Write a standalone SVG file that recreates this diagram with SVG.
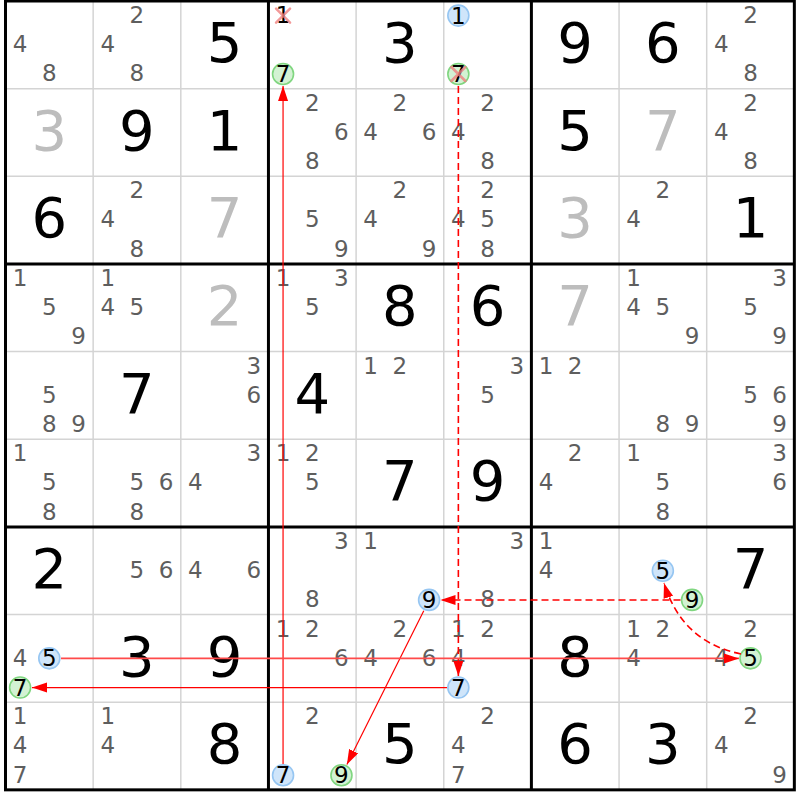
<svg xmlns="http://www.w3.org/2000/svg" width="800" height="800" viewBox="0 0 800 800">
<style>
.cd{font-family:"DejaVu Sans",sans-serif;font-size:23px;fill:#5e5e5e;text-anchor:middle}
.hk{font-family:"DejaVu Sans",sans-serif;font-size:23px;fill:#000;text-anchor:middle}
.gv{font-family:"DejaVu Sans",sans-serif;font-size:56px;fill:#000;text-anchor:middle}
.sv{font-family:"DejaVu Sans",sans-serif;font-size:56px;fill:#bdbdbd;text-anchor:middle}
.bl{fill:#cfe5fa;stroke:#96c6f2;stroke-width:1.6}
.gr{fill:#d3f2d3;stroke:#80d680;stroke-width:1.6}
.xm{stroke:#f08080;stroke-width:2.5;stroke-linecap:round;opacity:0.8}
.thin{stroke:#d4d4d4;stroke-width:1.5}
.thick{stroke:#000;stroke-width:3}
.ln{stroke:#ff0000;stroke-width:1.2;fill:none}
.lp{stroke:#ff4a4a;stroke-width:1.6;fill:none}
.dl{stroke:#ff0000;stroke-width:1.6;stroke-dasharray:7 4;fill:none}
</style>
<defs>
<marker id="ah" markerUnits="userSpaceOnUse" markerWidth="16" markerHeight="11" refX="15" refY="5" orient="auto"><path d="M0,0L15,5L0,10z" fill="#ff0000"/></marker>
</defs>
<rect width="800" height="800" fill="#fff"/>
<g id="grid">
<g class="thin">
<line x1="93.15" y1="1" x2="93.15" y2="789.85"/><line x1="180.8" y1="1" x2="180.8" y2="789.85"/>
<line x1="356.1" y1="1" x2="356.1" y2="789.85"/><line x1="443.75" y1="1" x2="443.75" y2="789.85"/>
<line x1="619.05" y1="1" x2="619.05" y2="789.85"/><line x1="706.7" y1="1" x2="706.7" y2="789.85"/>
<line x1="5.5" y1="88.65" x2="794.35" y2="88.65"/><line x1="5.5" y1="176.3" x2="794.35" y2="176.3"/>
<line x1="5.5" y1="351.6" x2="794.35" y2="351.6"/><line x1="5.5" y1="439.25" x2="794.35" y2="439.25"/>
<line x1="5.5" y1="614.55" x2="794.35" y2="614.55"/><line x1="5.5" y1="702.2" x2="794.35" y2="702.2"/>
</g>
<g class="thick">
<line x1="268.45" y1="1" x2="268.45" y2="789.85"/><line x1="531.4" y1="1" x2="531.4" y2="789.85"/>
<line x1="5.5" y1="263.95" x2="794.35" y2="263.95"/><line x1="5.5" y1="526.9" x2="794.35" y2="526.9"/>
<rect x="5.5" y="1" width="788.85" height="788.85" fill="none"/>
</g>
</g>
<g id="cells">
<!-- row 0 -->
<g id="r0c0" transform="translate(5.5,1)"><text class="cd" x="14.6" y="51.2">4</text><text class="cd" x="43.8" y="80.4">8</text></g>
<g id="r0c1" transform="translate(93.15,1)"><text class="cd" x="43.8" y="22">2</text><text class="cd" x="14.6" y="51.2">4</text><text class="cd" x="43.8" y="80.4">8</text></g>
<g id="r0c2" transform="translate(180.8,1)"><text class="gv" x="43.8" y="61">5</text></g>
<g id="r0c3" transform="translate(268.45,1)"><text class="hk" x="14.6" y="22">1</text><path class="xm" d="M7.6,7.6L21.6,21.6M21.6,7.6L7.6,21.6"/><circle class="gr" cx="14.6" cy="73" r="10.5"/><text class="hk" x="14.6" y="81">7</text></g>
<g id="r0c4" transform="translate(356.1,1)"><text class="gv" x="43.8" y="61">3</text></g>
<g id="r0c5" transform="translate(443.75,1)"><circle class="bl" cx="14.6" cy="14.6" r="10.5"/><text class="hk" x="14.6" y="22.6">1</text><circle class="gr" cx="14.6" cy="73" r="10.5"/><text class="hk" x="14.6" y="81">7</text><path class="xm" d="M7.6,66L21.6,80M21.6,66L7.6,80"/></g>
<g id="r0c6" transform="translate(531.4,1)"><text class="gv" x="43.8" y="61">9</text></g>
<g id="r0c7" transform="translate(619.05,1)"><text class="gv" x="43.8" y="61">6</text></g>
<g id="r0c8" transform="translate(706.7,1)"><text class="cd" x="43.8" y="22">2</text><text class="cd" x="14.6" y="51.2">4</text><text class="cd" x="43.8" y="80.4">8</text></g>
<!-- row 1 -->
<g id="r1c0" transform="translate(5.5,88.65)"><text class="sv" x="43.8" y="61">3</text></g>
<g id="r1c1" transform="translate(93.15,88.65)"><text class="gv" x="43.8" y="61">9</text></g>
<g id="r1c2" transform="translate(180.8,88.65)"><text class="gv" x="43.8" y="61">1</text></g>
<g id="r1c3" transform="translate(268.45,88.65)"><text class="cd" x="43.8" y="22">2</text><text class="cd" x="73" y="51.2">6</text><text class="cd" x="43.8" y="80.4">8</text></g>
<g id="r1c4" transform="translate(356.1,88.65)"><text class="cd" x="43.8" y="22">2</text><text class="cd" x="14.6" y="51.2">4</text><text class="cd" x="73" y="51.2">6</text></g>
<g id="r1c5" transform="translate(443.75,88.65)"><text class="cd" x="43.8" y="22">2</text><text class="cd" x="14.6" y="51.2">4</text><text class="cd" x="43.8" y="80.4">8</text></g>
<g id="r1c6" transform="translate(531.4,88.65)"><text class="gv" x="43.8" y="61">5</text></g>
<g id="r1c7" transform="translate(619.05,88.65)"><text class="sv" x="43.8" y="61">7</text></g>
<g id="r1c8" transform="translate(706.7,88.65)"><text class="cd" x="43.8" y="22">2</text><text class="cd" x="14.6" y="51.2">4</text><text class="cd" x="43.8" y="80.4">8</text></g>
<!-- row 2 -->
<g id="r2c0" transform="translate(5.5,176.3)"><text class="gv" x="43.8" y="61">6</text></g>
<g id="r2c1" transform="translate(93.15,176.3)"><text class="cd" x="43.8" y="22">2</text><text class="cd" x="14.6" y="51.2">4</text><text class="cd" x="43.8" y="80.4">8</text></g>
<g id="r2c2" transform="translate(180.8,176.3)"><text class="sv" x="43.8" y="61">7</text></g>
<g id="r2c3" transform="translate(268.45,176.3)"><text class="cd" x="43.8" y="51.2">5</text><text class="cd" x="73" y="80.4">9</text></g>
<g id="r2c4" transform="translate(356.1,176.3)"><text class="cd" x="43.8" y="22">2</text><text class="cd" x="14.6" y="51.2">4</text><text class="cd" x="73" y="80.4">9</text></g>
<g id="r2c5" transform="translate(443.75,176.3)"><text class="cd" x="43.8" y="22">2</text><text class="cd" x="14.6" y="51.2">4</text><text class="cd" x="43.8" y="51.2">5</text><text class="cd" x="43.8" y="80.4">8</text></g>
<g id="r2c6" transform="translate(531.4,176.3)"><text class="sv" x="43.8" y="61">3</text></g>
<g id="r2c7" transform="translate(619.05,176.3)"><text class="cd" x="43.8" y="22">2</text><text class="cd" x="14.6" y="51.2">4</text></g>
<g id="r2c8" transform="translate(706.7,176.3)"><text class="gv" x="43.8" y="61">1</text></g>
<!-- row 3 -->
<g id="r3c0" transform="translate(5.5,263.95)"><text class="cd" x="14.6" y="22">1</text><text class="cd" x="43.8" y="51.2">5</text><text class="cd" x="73" y="80.4">9</text></g>
<g id="r3c1" transform="translate(93.15,263.95)"><text class="cd" x="14.6" y="22">1</text><text class="cd" x="14.6" y="51.2">4</text><text class="cd" x="43.8" y="51.2">5</text></g>
<g id="r3c2" transform="translate(180.8,263.95)"><text class="sv" x="43.8" y="61">2</text></g>
<g id="r3c3" transform="translate(268.45,263.95)"><text class="cd" x="14.6" y="22">1</text><text class="cd" x="73" y="22">3</text><text class="cd" x="43.8" y="51.2">5</text></g>
<g id="r3c4" transform="translate(356.1,263.95)"><text class="gv" x="43.8" y="61">8</text></g>
<g id="r3c5" transform="translate(443.75,263.95)"><text class="gv" x="43.8" y="61">6</text></g>
<g id="r3c6" transform="translate(531.4,263.95)"><text class="sv" x="43.8" y="61">7</text></g>
<g id="r3c7" transform="translate(619.05,263.95)"><text class="cd" x="14.6" y="22">1</text><text class="cd" x="14.6" y="51.2">4</text><text class="cd" x="43.8" y="51.2">5</text><text class="cd" x="73" y="80.4">9</text></g>
<g id="r3c8" transform="translate(706.7,263.95)"><text class="cd" x="73" y="22">3</text><text class="cd" x="43.8" y="51.2">5</text><text class="cd" x="73" y="80.4">9</text></g>
<!-- row 4 -->
<g id="r4c0" transform="translate(5.5,351.6)"><text class="cd" x="43.8" y="51.2">5</text><text class="cd" x="43.8" y="80.4">8</text><text class="cd" x="73" y="80.4">9</text></g>
<g id="r4c1" transform="translate(93.15,351.6)"><text class="gv" x="43.8" y="61">7</text></g>
<g id="r4c2" transform="translate(180.8,351.6)"><text class="cd" x="73" y="22">3</text><text class="cd" x="73" y="51.2">6</text></g>
<g id="r4c3" transform="translate(268.45,351.6)"><text class="gv" x="43.8" y="61">4</text></g>
<g id="r4c4" transform="translate(356.1,351.6)"><text class="cd" x="14.6" y="22">1</text><text class="cd" x="43.8" y="22">2</text></g>
<g id="r4c5" transform="translate(443.75,351.6)"><text class="cd" x="73" y="22">3</text><text class="cd" x="43.8" y="51.2">5</text></g>
<g id="r4c6" transform="translate(531.4,351.6)"><text class="cd" x="14.6" y="22">1</text><text class="cd" x="43.8" y="22">2</text></g>
<g id="r4c7" transform="translate(619.05,351.6)"><text class="cd" x="43.8" y="80.4">8</text><text class="cd" x="73" y="80.4">9</text></g>
<g id="r4c8" transform="translate(706.7,351.6)"><text class="cd" x="43.8" y="51.2">5</text><text class="cd" x="73" y="51.2">6</text><text class="cd" x="73" y="80.4">9</text></g>
<!-- row 5 -->
<g id="r5c0" transform="translate(5.5,439.25)"><text class="cd" x="14.6" y="22">1</text><text class="cd" x="43.8" y="51.2">5</text><text class="cd" x="43.8" y="80.4">8</text></g>
<g id="r5c1" transform="translate(93.15,439.25)"><text class="cd" x="43.8" y="51.2">5</text><text class="cd" x="73" y="51.2">6</text><text class="cd" x="43.8" y="80.4">8</text></g>
<g id="r5c2" transform="translate(180.8,439.25)"><text class="cd" x="73" y="22">3</text><text class="cd" x="14.6" y="51.2">4</text></g>
<g id="r5c3" transform="translate(268.45,439.25)"><text class="cd" x="14.6" y="22">1</text><text class="cd" x="43.8" y="22">2</text><text class="cd" x="43.8" y="51.2">5</text></g>
<g id="r5c4" transform="translate(356.1,439.25)"><text class="gv" x="43.8" y="61">7</text></g>
<g id="r5c5" transform="translate(443.75,439.25)"><text class="gv" x="43.8" y="61">9</text></g>
<g id="r5c6" transform="translate(531.4,439.25)"><text class="cd" x="43.8" y="22">2</text><text class="cd" x="14.6" y="51.2">4</text></g>
<g id="r5c7" transform="translate(619.05,439.25)"><text class="cd" x="14.6" y="22">1</text><text class="cd" x="43.8" y="51.2">5</text><text class="cd" x="43.8" y="80.4">8</text></g>
<g id="r5c8" transform="translate(706.7,439.25)"><text class="cd" x="73" y="22">3</text><text class="cd" x="73" y="51.2">6</text></g>
<!-- row 6 -->
<g id="r6c0" transform="translate(5.5,526.9)"><text class="gv" x="43.8" y="61">2</text></g>
<g id="r6c1" transform="translate(93.15,526.9)"><text class="cd" x="43.8" y="51.2">5</text><text class="cd" x="73" y="51.2">6</text></g>
<g id="r6c2" transform="translate(180.8,526.9)"><text class="cd" x="14.6" y="51.2">4</text><text class="cd" x="73" y="51.2">6</text></g>
<g id="r6c3" transform="translate(268.45,526.9)"><text class="cd" x="73" y="22">3</text><text class="cd" x="43.8" y="80.4">8</text></g>
<g id="r6c4" transform="translate(356.1,526.9)"><text class="cd" x="14.6" y="22">1</text><circle class="bl" cx="73" cy="73" r="10.5"/><text class="hk" x="73" y="81">9</text></g>
<g id="r6c5" transform="translate(443.75,526.9)"><text class="cd" x="73" y="22">3</text><text class="cd" x="43.8" y="80.4">8</text></g>
<g id="r6c6" transform="translate(531.4,526.9)"><text class="cd" x="14.6" y="22">1</text><text class="cd" x="14.6" y="51.2">4</text></g>
<g id="r6c7" transform="translate(619.05,526.9)"><circle class="bl" cx="43.8" cy="43.8" r="10.5"/><text class="hk" x="43.8" y="51.8">5</text><circle class="gr" cx="73" cy="73" r="10.5"/><text class="hk" x="73" y="81">9</text></g>
<g id="r6c8" transform="translate(706.7,526.9)"><text class="gv" x="43.8" y="61">7</text></g>
<!-- row 7 -->
<g id="r7c0" transform="translate(5.5,614.55)"><text class="cd" x="14.6" y="51.2">4</text><circle class="bl" cx="43.8" cy="43.8" r="10.5"/><text class="hk" x="43.8" y="51.8">5</text><circle class="gr" cx="14.6" cy="73" r="10.5"/><text class="hk" x="14.6" y="81">7</text></g>
<g id="r7c1" transform="translate(93.15,614.55)"><text class="gv" x="43.8" y="61">3</text></g>
<g id="r7c2" transform="translate(180.8,614.55)"><text class="gv" x="43.8" y="61">9</text></g>
<g id="r7c3" transform="translate(268.45,614.55)"><text class="cd" x="14.6" y="22">1</text><text class="cd" x="43.8" y="22">2</text><text class="cd" x="73" y="51.2">6</text></g>
<g id="r7c4" transform="translate(356.1,614.55)"><text class="cd" x="43.8" y="22">2</text><text class="cd" x="14.6" y="51.2">4</text><text class="cd" x="73" y="51.2">6</text></g>
<g id="r7c5" transform="translate(443.75,614.55)"><text class="cd" x="14.6" y="22">1</text><text class="cd" x="43.8" y="22">2</text><text class="cd" x="14.6" y="51.2">4</text><circle class="bl" cx="14.6" cy="73" r="10.5"/><text class="hk" x="14.6" y="81">7</text></g>
<g id="r7c6" transform="translate(531.4,614.55)"><text class="gv" x="43.8" y="61">8</text></g>
<g id="r7c7" transform="translate(619.05,614.55)"><text class="cd" x="14.6" y="22">1</text><text class="cd" x="43.8" y="22">2</text><text class="cd" x="14.6" y="51.2">4</text></g>
<g id="r7c8" transform="translate(706.7,614.55)"><text class="cd" x="43.8" y="22">2</text><text class="cd" x="14.6" y="51.2">4</text><circle class="gr" cx="43.8" cy="43.8" r="10.5"/><text class="hk" x="43.8" y="51.8">5</text></g>
<!-- row 8 -->
<g id="r8c0" transform="translate(5.5,702.2)"><text class="cd" x="14.6" y="22">1</text><text class="cd" x="14.6" y="51.2">4</text><text class="cd" x="14.6" y="80.4">7</text></g>
<g id="r8c1" transform="translate(93.15,702.2)"><text class="cd" x="14.6" y="22">1</text><text class="cd" x="14.6" y="51.2">4</text></g>
<g id="r8c2" transform="translate(180.8,702.2)"><text class="gv" x="43.8" y="61">8</text></g>
<g id="r8c3" transform="translate(268.45,702.2)"><text class="cd" x="43.8" y="22">2</text><circle class="bl" cx="14.6" cy="73" r="10.5"/><text class="hk" x="14.6" y="81">7</text><circle class="gr" cx="73" cy="73" r="10.5"/><text class="hk" x="73" y="81">9</text></g>
<g id="r8c4" transform="translate(356.1,702.2)"><text class="gv" x="43.8" y="61">5</text></g>
<g id="r8c5" transform="translate(443.75,702.2)"><text class="cd" x="43.8" y="22">2</text><text class="cd" x="14.6" y="51.2">4</text><text class="cd" x="14.6" y="80.4">7</text></g>
<g id="r8c6" transform="translate(531.4,702.2)"><text class="gv" x="43.8" y="61">6</text></g>
<g id="r8c7" transform="translate(619.05,702.2)"><text class="gv" x="43.8" y="61">3</text></g>
<g id="r8c8" transform="translate(706.7,702.2)"><text class="cd" x="43.8" y="22">2</text><text class="cd" x="14.6" y="51.2">4</text><text class="cd" x="73" y="80.4">9</text></g>
</g>
<g id="connectors">
<path class="ln" d="M283.06,764L283.06,86" marker-end="url(#ah)"/>
<path class="dl" d="M458.36,86L458.36,676" marker-end="url(#ah)"/>
<path class="dl" d="M680.5,599.94L440.5,599.94" marker-end="url(#ah)"/>
<path class="dl" d="M741,654Q682,642 664,583" marker-end="url(#ah)"/>
<path class="ln" d="M423.8,610.7L346.9,764.5" marker-end="url(#ah)"/>
<path class="lp" d="M61,658.38L739,658.38" marker-end="url(#ah)"/>
<path class="ln" d="M447,687.59L32,687.59" marker-end="url(#ah)"/>
</g>
</svg>
